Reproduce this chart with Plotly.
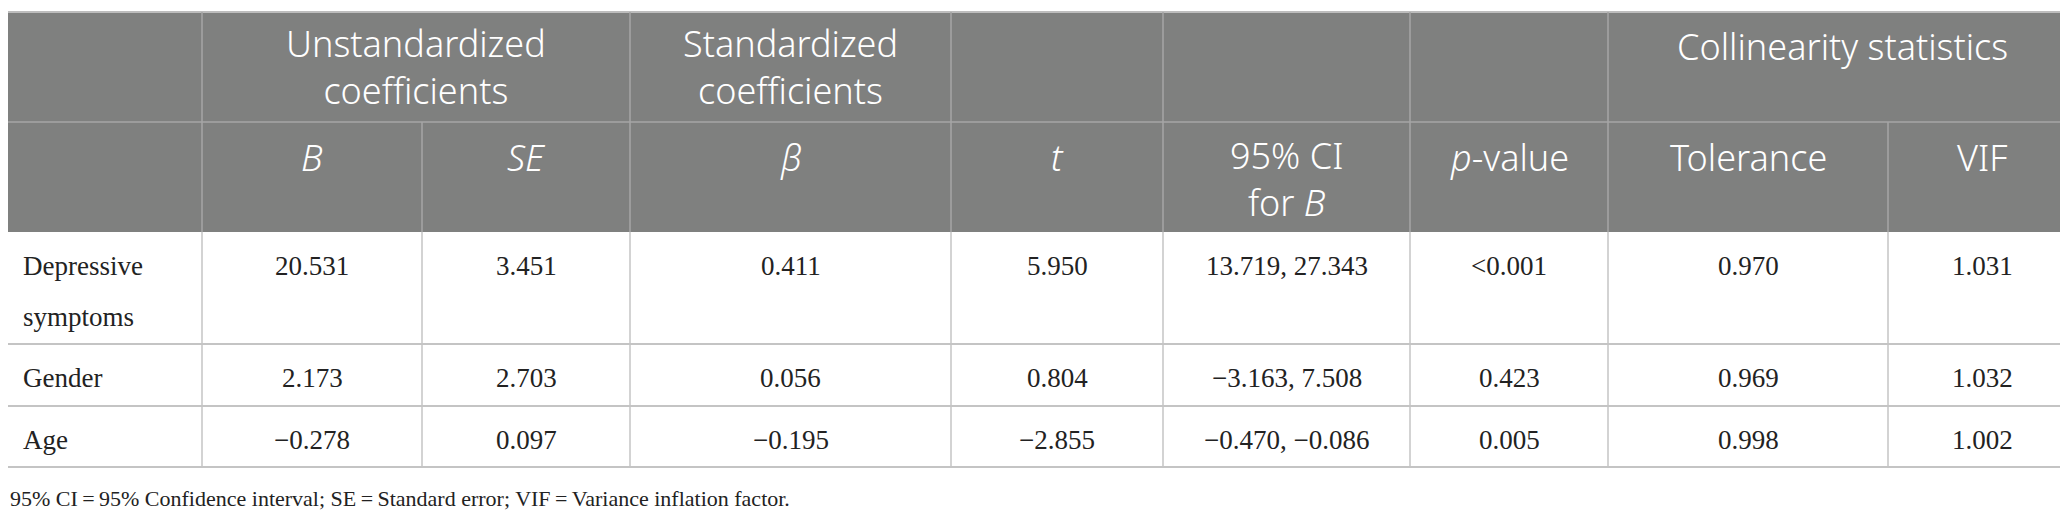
import plotly.graph_objects as go

# ---- table content ----
group_headers = ["", "Unstandardized<br>coefficients", "Standardized<br>coefficients", "", "", "", "Collinearity statistics"]
group_spans = [1, 2, 1, 1, 1, 1, 2]
col_headers = ["", "<i>B</i>", "<i>SE</i>", "<i>β</i>", "<i>t</i>", "95% CI<br>for <i>B</i>",
               "<i>p</i>-value", "Tolerance", "VIF"]

variables = ["Depressive<br>symptoms", "Gender", "Age"]
b_vals = ["20.531", "2.173", "\u22120.278"]
se_vals = ["3.451", "2.703", "0.097"]
beta_vals = ["0.411", "0.056", "\u22120.195"]
t_vals = ["5.950", "0.804", "\u22122.855"]
ci_vals = ["13.719, 27.343", "\u22123.163, 7.508", "\u22120.470, \u22120.086"]
p_vals = ["<0.001", "0.423", "0.005"]
tol_vals = ["0.970", "0.969", "0.998"]
vif_vals = ["1.031", "1.032", "1.002"]

footnote = "95% CI\u2009=\u200995% Confidence interval; SE\u2009=\u2009Standard error; VIF\u2009=\u2009Variance inflation factor."

# ---- layout geometry (pixels) ----
W, H = 2068, 512
col_edges = [0, 194, 414, 622, 943, 1155, 1402, 1600, 1880, 2068]
row_edges = [4, 114, 224, 336, 398, 459]
HEAD_BG = "#7f807f"
HEAD_LINE = "#a6a6a6"
BODY_LINE = "#c4c4c4"
HEAD_FONT = dict(family="Noto Sans", size=36, color="white", weight=300)
BODY_FONT = dict(family="Liberation Serif", size=27, color="#222222")

fig = go.Figure()
shapes = []
annotations = []

# header background
shapes.append(dict(type="rect", x0=0, x1=W, y0=row_edges[0], y1=row_edges[2],
                   fillcolor=HEAD_BG, line_width=0, layer="below"))


def add_header(text, xc, ytop, font, spacing, first_off):
    # multi-line header kept as one text; centred between its first and last line
    n = text.count("<br>") + 1
    annotations.append(dict(x=xc, y=ytop + first_off + (n - 1) * spacing / 2, text=text,
                            xref="x", yref="y", showarrow=False,
                            xanchor="center", yanchor="middle", font=font))


def add_cell(text, xc, ytop, font, spacing, first_off, xanchor="center"):
    # body cells use a looser line spacing than plotly's default, so lines are placed one by one
    for i, line in enumerate(text.split("<br>")):
        annotations.append(dict(x=xc, y=ytop + first_off + i * spacing, text=line,
                                xref="x", yref="y", showarrow=False,
                                xanchor=xanchor, yanchor="middle", font=font))


# group header row
ci = 0
for label, span in zip(group_headers, group_spans):
    x0, x1 = col_edges[ci], col_edges[ci + span]
    if label:
        add_header(label, (x0 + x1) / 2, row_edges[0], HEAD_FONT, 42, 34)
    ci += span

# column header row
for i, label in enumerate(col_headers):
    x0, x1 = col_edges[i], col_edges[i + 1]
    if label:
        add_header(label, (x0 + x1) / 2, row_edges[1], HEAD_FONT, 43, 35)

# body rows
columns = [b_vals, se_vals, beta_vals, t_vals, ci_vals, p_vals, tol_vals, vif_vals]
for r, var in enumerate(variables):
    ytop = row_edges[2 + r]
    add_cell(var, 13, ytop, BODY_FONT, 51, 34, xanchor="left")
    for c, vals in enumerate(columns):
        x0, x1 = col_edges[c + 1], col_edges[c + 2]
        add_cell(vals[r], (x0 + x1) / 2, ytop, BODY_FONT, 51, 34)

# grid lines: header
shapes.append(dict(type="line", x0=0, x1=W, y0=row_edges[0], y1=row_edges[0],
                   line=dict(color="#bdbdbd", width=2)))
shapes.append(dict(type="line", x0=0, x1=W, y0=row_edges[1], y1=row_edges[1],
                   line=dict(color=HEAD_LINE, width=1.5)))
ci = 0
for span in group_spans[:-1]:
    ci += span
    shapes.append(dict(type="line", x0=col_edges[ci], x1=col_edges[ci], y0=row_edges[0], y1=row_edges[1],
                       line=dict(color=HEAD_LINE, width=1.5)))
for x in col_edges[1:-1]:
    shapes.append(dict(type="line", x0=x, x1=x, y0=row_edges[1], y1=row_edges[2],
                       line=dict(color=HEAD_LINE, width=1.5)))
# grid lines: body
for y in row_edges[3:]:
    shapes.append(dict(type="line", x0=0, x1=W, y0=y, y1=y,
                       line=dict(color=BODY_LINE, width=2)))
for x in col_edges[1:-1]:
    shapes.append(dict(type="line", x0=x, x1=x, y0=row_edges[2], y1=row_edges[-1],
                       line=dict(color=BODY_LINE, width=1.5)))

# footnote
annotations.append(dict(x=0, y=490, text=footnote, xref="x", yref="y", showarrow=False,
                        xanchor="left", yanchor="middle",
                        font=dict(family="Liberation Serif", size=22, color="#222222")))

fig.update_layout(
    width=W, height=H,
    margin=dict(l=0, r=0, t=0, b=0),
    paper_bgcolor="white", plot_bgcolor="white",
    xaxis=dict(range=[0, W], visible=False, fixedrange=True),
    yaxis=dict(range=[H, 0], visible=False, fixedrange=True),
    shapes=shapes, annotations=annotations,
    showlegend=False,
)

fig.write_html("out.html")
